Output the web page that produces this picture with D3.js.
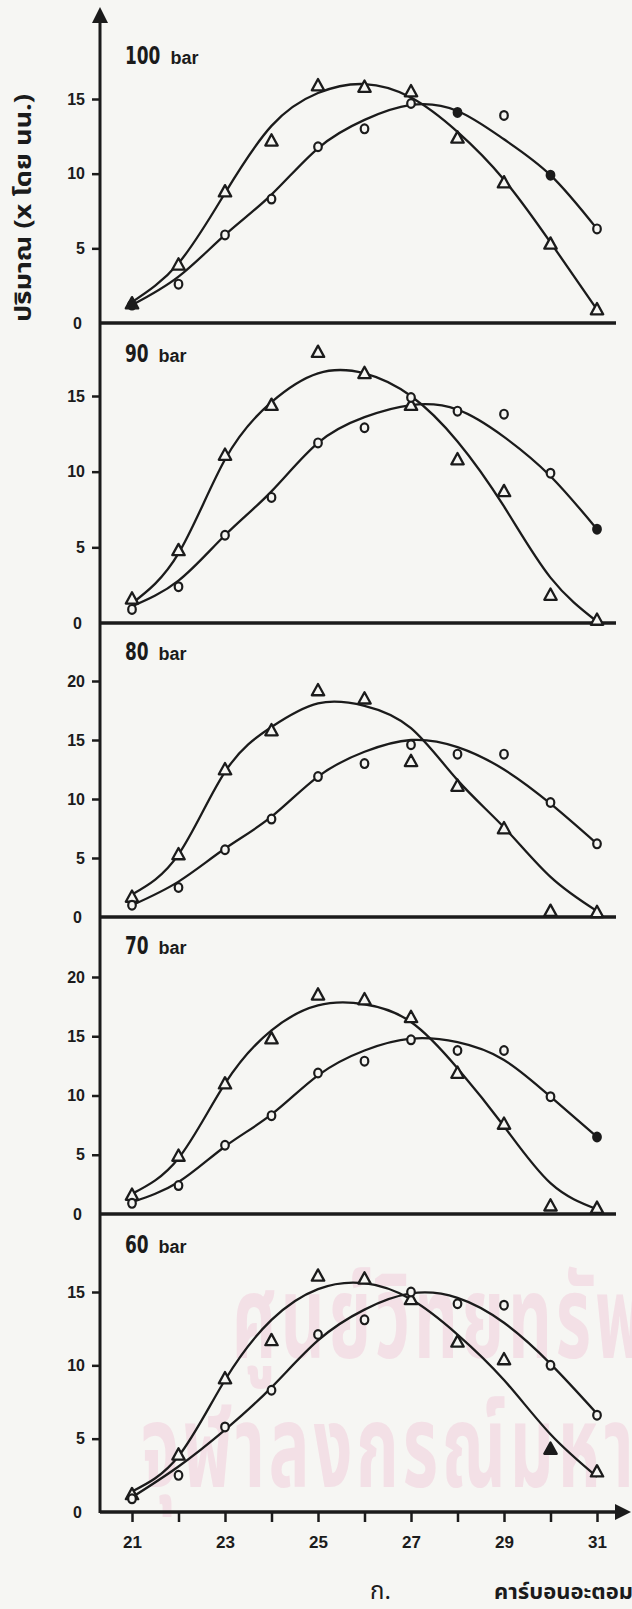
<!DOCTYPE html>
<html>
<head>
<meta charset="utf-8">
<script src="https://cdn.jsdelivr.net/npm/d3@7"></script>
<style>
  html, body { margin: 0; padding: 0; background: #f6f6f3; }
  svg { display: block; }
</style>
</head>
<body>
<svg id="chart" width="632" height="1609"></svg>
<script>
// Carbon number on the x axis
const carbons = [21, 22, 23, 24, 25, 26, 27, 28, 29, 30, 31];
const xTickLabels = [21, 23, 25, 27, 29, 31];

// Pressure of each panel, top to bottom
const pressureNums = ["100", "90", "80", "70", "60"];

// Y tick values of each panel
const yTicks100 = [0, 5, 10, 15];
const yTicks90  = [0, 5, 10, 15];
const yTicks80  = [0, 5, 10, 15, 20];
const yTicks70  = [0, 5, 10, 15, 20];
const yTicks60  = [0, 5, 10, 15];

// Measured amounts (triangles and circles) and their fitted curves, per carbon number
const tri100     = [1.3, 3.9, 8.8, 12.2, 15.9, 15.8, 15.5, 12.4, 9.4, 5.3, 0.9];
const circ100    = [1.2, 2.6, 5.9, 8.3, 11.8, 13.0, 14.7, 14.1, 13.9, 9.9, 6.3];
const triFit100  = [1.4, 4.0, 8.7, 13.2, 15.4, 16.0, 15.1, 12.8, 9.6, 5.4, 0.9];
const circFit100 = [1.2, 3.1, 5.9, 8.6, 11.7, 13.6, 14.6, 14.2, 12.3, 9.9, 6.3];

const tri90      = [1.6, 4.8, 11.1, 14.4, 17.9, 16.5, 14.4, 10.8, 8.7, 1.85, 0.2];
const circ90     = [0.9, 2.4, 5.8, 8.3, 11.9, 12.9, 14.9, 14.0, 13.8, 9.9, 6.2];
const triFit90   = [1.3, 4.6, 10.8, 14.6, 16.5, 16.5, 15.0, 12.0, 7.7, 3.0, 0.1];
const circFit90  = [1.1, 2.8, 5.8, 8.7, 11.9, 13.6, 14.4, 14.1, 12.3, 9.7, 6.2];

const tri80      = [1.7, 5.3, 12.5, 15.8, 19.2, 18.5, 13.2, 11.1, 7.5, 0.5, 0.4];
const circ80     = [1.0, 2.5, 5.7, 8.3, 11.9, 13.0, 14.6, 13.8, 13.8, 9.7, 6.2];
const triFit80   = [1.9, 5.3, 12.3, 16.1, 18.1, 17.9, 16.0, 11.6, 7.6, 3.4, 0.5];
const circFit80  = [1.0, 3.0, 5.8, 8.5, 11.9, 14.0, 15.0, 14.4, 12.5, 9.6, 6.2];

const tri70      = [1.6, 4.9, 11.0, 14.8, 18.5, 18.1, 16.6, 11.9, 7.6, 0.7, 0.5];
const circ70     = [0.9, 2.4, 5.8, 8.3, 11.9, 12.9, 14.7, 13.8, 13.8, 9.9, 6.5];
const triFit70   = [1.7, 4.7, 11.0, 15.5, 17.6, 17.7, 16.2, 12.3, 7.4, 2.6, 0.4];
const circFit70  = [1.0, 2.7, 5.7, 8.4, 11.7, 13.8, 14.8, 14.5, 13.0, 9.9, 6.5];

const tri60      = [1.2, 3.9, 9.1, 11.7, 16.1, 15.9, 14.5, 11.6, 10.4, 4.3, 2.75];
const circ60     = [0.9, 2.5, 5.8, 8.3, 12.1, 13.1, 15.0, 14.2, 14.1, 10.0, 6.6];
const triFit60   = [1.4, 3.8, 9.0, 13.1, 15.2, 15.6, 14.5, 12.1, 9.0, 5.3, 2.4];
const circFit60  = [1.0, 3.1, 5.6, 8.5, 11.7, 13.8, 14.9, 14.6, 12.9, 10.1, 6.7];

// Points printed as solid marks
const solidCircles100 = [21, 28, 30];
const solidCircles90  = [31];
const solidCircles70  = [31];
const solidTriangles60 = [30];

// Library stamp printed across the lower panels
const stampLines = ["ศูนย์วิทยทรัพยากร", "จุฬาลงกรณ์มหาวิทยาลัย"];

const panels = [
  { num: pressureNums[0], ticks: yTicks100, tri: tri100, circ: circ100, triFit: triFit100, circFit: circFit100, solidC: solidCircles100, solidT: [] },
  { num: pressureNums[1], ticks: yTicks90,  tri: tri90,  circ: circ90,  triFit: triFit90,  circFit: circFit90,  solidC: solidCircles90,  solidT: [] },
  { num: pressureNums[2], ticks: yTicks80,  tri: tri80,  circ: circ80,  triFit: triFit80,  circFit: circFit80,  solidC: [], solidT: [] },
  { num: pressureNums[3], ticks: yTicks70,  tri: tri70,  circ: circ70,  triFit: triFit70,  circFit: circFit70,  solidC: solidCircles70,  solidT: [] },
  { num: pressureNums[4], ticks: yTicks60,  tri: tri60,  circ: circ60,  triFit: triFit60,  circFit: circFit60,  solidC: [], solidT: solidTriangles60 }
];

// Layout: zero line and top tick position of each stacked panel
const frames = [
  { zeroY: 323,  topY: 99,   topVal: 15, titleY: 64 },
  { zeroY: 623,  topY: 396,  topVal: 15, titleY: 362 },
  { zeroY: 917,  topY: 681,  topVal: 20, titleY: 660 },
  { zeroY: 1214, topY: 977,  topVal: 20, titleY: 954 },
  { zeroY: 1512, topY: 1292, topVal: 15, titleY: 1253 }
];

const ink = "#1b1b1b";
const paper = "#f6f6f3";
const axisX = 100;
const svg = d3.select("#chart");

const x = d3.scaleLinear().domain([21, 31]).range([132, 597]);

// faint stamp behind the chart, clipped to the page
svg.append("clipPath").attr("id", "page")
  .append("rect").attr("width", 632).attr("height", 1609);
const stamp = svg.append("g").attr("clip-path", "url(#page)").attr("fill", "#f3e0e6");
[[232, 1358], [141, 1487]].forEach((pos, i) => {
  stamp.append("text")
    .attr("transform", `translate(${pos[0]},${pos[1]}) scale(1,1.7)`)
    .attr("font-family", "'Noto Sans Thai', 'Noto Sans', sans-serif")
    .attr("font-weight", "bold")
    .attr("font-size", 68)
    .attr("letter-spacing", 4)
    .text(stampLines[i]);
});

// Y axis running through all panels, with its arrow head
svg.append("line")
  .attr("x1", axisX).attr("x2", axisX)
  .attr("y1", 18).attr("y2", 1513)
  .attr("stroke", ink).attr("stroke-width", 3);
svg.append("path")
  .attr("d", `M${axisX},7 L${axisX - 8},23 L${axisX + 8},23 Z`)
  .attr("fill", ink);

panels.forEach((p, i) => {
  const f = frames[i];
  const y = d3.scaleLinear().domain([0, f.topVal]).range([f.zeroY, f.topY]);
  const g = svg.append("g");

  // zero line of the panel
  if (i < panels.length - 1) {
    g.append("line")
      .attr("x1", axisX).attr("x2", 616)
      .attr("y1", f.zeroY).attr("y2", f.zeroY)
      .attr("stroke", ink).attr("stroke-width", 3.5);
  }

  // y axis ticks and labels
  const yAxis = d3.axisLeft(y).tickValues(p.ticks).tickSize(8).tickPadding(6).tickFormat(d3.format("d"));
  const ag = g.append("g").attr("transform", `translate(${axisX},0)`).call(yAxis);
  ag.select(".domain").remove();
  ag.selectAll(".tick line").attr("stroke", ink).attr("stroke-width", 2.5)
    .filter(d => d === 0).remove();
  ag.selectAll(".tick text")
    .attr("fill", ink)
    .attr("font-family", "'Liberation Sans', Arial, sans-serif")
    .attr("font-weight", "bold")
    .attr("font-size", 16)
    .attr("x", d => d === 0 ? -18 : -15);

  // panel title
  const numW = 11.8 * p.num.length;
  g.append("text")
    .attr("x", 125).attr("y", f.titleY)
    .attr("font-family", "'Liberation Sans Narrow', 'DejaVu Sans Condensed', sans-serif")
    .attr("font-weight", "bold").attr("font-size", 25)
    .attr("textLength", numW).attr("lengthAdjust", "spacingAndGlyphs")
    .attr("fill", ink)
    .text(p.num);
  g.append("text")
    .attr("x", 125 + numW + 10).attr("y", f.titleY)
    .attr("font-family", "'Liberation Sans', Arial, sans-serif")
    .attr("font-weight", "bold").attr("font-size", 18)
    .attr("fill", ink)
    .text("bar");

  // fitted curves
  const line = d3.line()
    .x((d, k) => x(carbons[k]))
    .y(d => y(d))
    .curve(d3.curveNatural);
  [p.triFit, p.circFit].forEach(fit => {
    g.append("path")
      .attr("d", line(fit))
      .attr("fill", "none")
      .attr("stroke", ink)
      .attr("stroke-width", 2.3);
  });

  // triangle markers
  g.selectAll(".tri").data(p.tri).join("path")
    .attr("class", "tri")
    .attr("d", (d, k) => {
      const cx = x(carbons[k]), cy = y(d);
      return `M${cx},${cy - 6.5} L${cx + 6.2},${cy + 4.8} L${cx - 6.2},${cy + 4.8} Z`;
    })
    .attr("fill", (d, k) => p.solidT.includes(carbons[k]) ? ink : paper)
    .attr("stroke", ink).attr("stroke-width", 2.3)
    .attr("stroke-linejoin", "round");

  // circle markers
  g.selectAll(".circ").data(p.circ).join("ellipse")
    .attr("class", "circ")
    .attr("cx", (d, k) => x(carbons[k]))
    .attr("cy", d => y(d))
    .attr("rx", 3.8).attr("ry", 4.4)
    .attr("fill", (d, k) => p.solidC.includes(carbons[k]) ? ink : paper)
    .attr("stroke", ink).attr("stroke-width", 2.2);
});

// bottom x axis with arrow head
const bottomY = frames[frames.length - 1].zeroY;
svg.append("line")
  .attr("x1", axisX).attr("x2", 620)
  .attr("y1", bottomY).attr("y2", bottomY)
  .attr("stroke", ink).attr("stroke-width", 3.5);
svg.append("path")
  .attr("d", `M631,${bottomY} L615,${bottomY - 8} L615,${bottomY + 8} Z`)
  .attr("fill", ink);

const xAxis = d3.axisBottom(x).tickValues(carbons).tickSize(10).tickPadding(14)
  .tickFormat(d => xTickLabels.includes(d) ? d : "");
const xg = svg.append("g").attr("transform", `translate(0,${bottomY})`).call(xAxis);
xg.select(".domain").remove();
xg.selectAll(".tick line").attr("stroke", ink).attr("stroke-width", 2.5);
xg.selectAll(".tick text")
  .attr("fill", ink)
  .attr("font-family", "'Liberation Sans', Arial, sans-serif")
  .attr("font-weight", "bold")
  .attr("font-size", 17);

// axis titles
svg.append("text")
  .attr("transform", "translate(31,208) rotate(-90)")
  .attr("text-anchor", "middle")
  .attr("font-family", "'Noto Sans Thai', 'Noto Sans', sans-serif")
  .attr("font-weight", "bold").attr("font-size", 23)
  .attr("textLength", 228).attr("lengthAdjust", "spacingAndGlyphs")
  .attr("fill", ink)
  .text("ปริมาณ (x โดย นน.)");

svg.append("text")
  .attr("x", 370).attr("y", 1599)
  .attr("font-family", "'Noto Sans Thai', 'Noto Sans', sans-serif")
  .attr("font-size", 24)
  .attr("fill", ink)
  .text("ก.");

svg.append("text")
  .attr("x", 494).attr("y", 1599)
  .attr("font-family", "'Noto Sans Thai', 'Noto Sans', sans-serif")
  .attr("font-weight", "bold")
  .attr("font-size", 22)
  .attr("fill", ink)
  .text("คาร์บอนอะตอม");
</script>
</body>
</html>
